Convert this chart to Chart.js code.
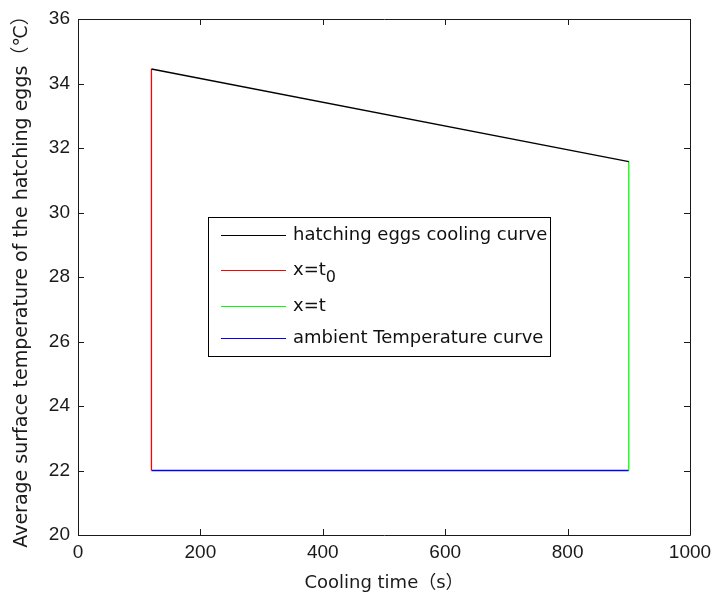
<!DOCTYPE html>
<html>
<head>
<meta charset="utf-8">
<script src="https://cdn.jsdelivr.net/npm/chart.js@4.4.0/dist/chart.umd.min.js"></script>
<style>
html,body{margin:0;padding:0;background:#fff;}
#wrap{width:712px;height:595px;position:relative;}
</style>
</head>
<body>
<div id="wrap"><canvas id="c" width="712" height="595"></canvas></div>
<script>
// ---- data ----
const curveX = [120, 900];
const curveY = [34.45, 31.58];
const t0LineX = [120, 120];
const t0LineY = [22, 34.45];
const tLineX = [900, 900];
const tLineY = [22, 31.58];
const ambientX = [120, 900];
const ambientY = [22, 22];
const xTicks = [0, 200, 400, 600, 800, 1000];
const yTicks = [20, 22, 24, 26, 28, 30, 32, 34, 36];
const seriesNames = ['hatching eggs cooling curve', 'x=t0', 'x=t', 'ambient Temperature curve'];
const seriesColors = ['#000000', '#ff0000', '#00ff00', '#0000ff'];
const xTitle = 'Cooling time（s）';
const yTitle = 'Average surface temperature of the hatching eggs（℃）';

const pts = (xs, ys) => xs.map((x, i) => ({x: x, y: ys[i]}));
const seriesData = [pts(curveX, curveY), pts(t0LineX, t0LineY), pts(tLineX, tLineY), pts(ambientX, ambientY)];

const FONT = 'Liberation Sans, Arial, sans-serif';
const WFONT = '"DejaVu Sans", "Noto Sans CJK SC", sans-serif';

const boxPlugin = {
  id: 'boxTicks',
  afterDraw(chart) {
    const {ctx, chartArea: a, scales: {x, y}} = chart;
    ctx.save();
    ctx.strokeStyle = '#1a1a1a';
    ctx.lineWidth = 1;
    ctx.beginPath();
    ctx.rect(Math.round(a.left) + 0.5, Math.round(a.top) + 0.5, Math.round(a.right - a.left), Math.round(a.bottom - a.top));
    const L = 6;
    xTicks.forEach(v => {
      const px = Math.round(x.getPixelForValue(v)) + 0.5;
      ctx.moveTo(px, a.bottom); ctx.lineTo(px, a.bottom - L);
      ctx.moveTo(px, a.top); ctx.lineTo(px, a.top + L);
    });
    yTicks.forEach(v => {
      const py = Math.round(y.getPixelForValue(v)) + 0.5;
      ctx.moveTo(a.left, py); ctx.lineTo(a.left + L, py);
      ctx.moveTo(a.right, py); ctx.lineTo(a.right - L, py);
    });
    ctx.stroke();

    // legend box
    const bx = 208.5, by = 217.5, bw = 342, bh = 139;
    ctx.fillStyle = '#fff';
    ctx.fillRect(bx, by, bw, bh);
    ctx.strokeStyle = '#000';
    ctx.strokeRect(bx, by, bw, bh);
    const rowsY = [235, 270, 306, 338];
    const lf = '18px ' + WFONT;
    ctx.font = lf;
    ctx.textBaseline = 'middle';
    ctx.fillStyle = '#111';
    seriesNames.forEach((name, i) => {
      const ry = rowsY[i] + 0.5;
      ctx.strokeStyle = seriesColors[i];
      ctx.lineWidth = 1.2;
      ctx.beginPath();
      ctx.moveTo(221, ry); ctx.lineTo(286, ry);
      ctx.stroke();
      if (name === 'x=t0') {
        ctx.fillText('x=t', 293, rowsY[i]);
        const w = ctx.measureText('x=t').width;
        ctx.font = '16px ' + WFONT;
        ctx.fillText('0', 293 + w, rowsY[i] + 8);
        ctx.font = lf;
      } else {
        ctx.fillText(name, 293, rowsY[i]);
      }
    });
    ctx.restore();
  }
};

new Chart(document.getElementById('c'), {
  type: 'scatter',
  data: {
    datasets: seriesData.map((d, i) => ({
      label: seriesNames[i],
      data: d,
      showLine: true,
      borderColor: seriesColors[i],
      backgroundColor: seriesColors[i],
      borderWidth: 1.3,
      pointRadius: 0,
      tension: 0
    }))
  },
  options: {
    responsive: false,
    animation: false,
    devicePixelRatio: 1,
    layout: {padding: {top: 19, right: 22, left: 0, bottom: 0}},
    plugins: {legend: {display: false}, tooltip: {enabled: false}},
    scales: {
      x: {
        type: 'linear', min: 0, max: 1000,
        afterBuildTicks: s => { s.ticks = xTicks.map(v => ({value: v})); },
        afterFit: s => { s.height = 60; s.paddingLeft = 0; s.paddingRight = 0; },
        grid: {display: false, drawTicks: false},
        border: {display: false},
        ticks: {color: '#1a1a1a', font: {family: FONT, size: 19}, padding: 6, maxRotation: 0, callback: v => String(v)},
        title: {display: true, text: xTitle, color: '#1a1a1a', font: {family: WFONT, size: 18}, padding: {top: 1, bottom: 1}}
      },
      y: {
        type: 'linear', min: 20, max: 36,
        afterBuildTicks: s => { s.ticks = yTicks.map(v => ({value: v})); },
        afterFit: s => { s.width = 78; s.paddingTop = 0; s.paddingBottom = 0; },
        grid: {display: false, drawTicks: false},
        border: {display: false},
        ticks: {color: '#1a1a1a', font: {family: FONT, size: 19}, padding: 8, callback: v => String(v)},
        title: {display: true, text: yTitle, color: '#1a1a1a', font: {family: WFONT, size: 19}, padding: {top: 11, bottom: 11}}
      }
    }
  },
  plugins: [boxPlugin]
});
</script>
</body>
</html>
